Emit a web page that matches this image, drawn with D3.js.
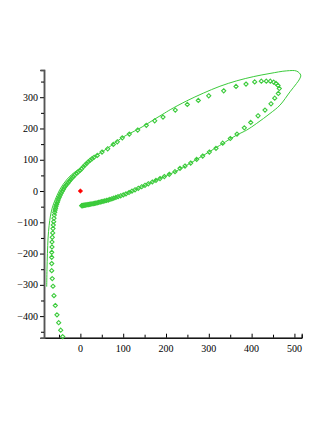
<!DOCTYPE html>
<html>
<head>
<meta charset="utf-8">
<script src="https://cdn.jsdelivr.net/npm/d3@7"></script>
<style>
	body { margin: 0; background: #fff; }
	svg { display: block; }
	.tick-label { font-family: 'Liberation Serif', 'Times New Roman', serif; font-size: 10px; fill: #000; }
</style>
</head>
<body>
<svg id="chart"></svg>
<script>
// Data

// numeric solution, drawn as hollow diamonds
let pointsX = [-41.4, -46, -50.7, -54.7, -58.6, -61.7, -64, -65.7, -67, -67, -67, -67, -66.4, -66.4, -65.7, -64.7, -64, -63.3, -62.4, -61.7, -61, -60,
	-59, -58, -57, -55.5, -54, -52.5, -51, -49, -47, -45, -42.5, -40, -37.5, -35, -32, -29, -26, -23, -20, -16.5, -13, -9, -5, -1, 3, 6.8,
	10.5, 14.5, 18.5, 23, 27.5, 32, 39.5, 50.5, 63.8, 76.9, 86.2, 97.9, 114.3, 133.9, 154, 173.6, 193, 221.7, 249.8, 275.5, 299.8, 334.8, 363.6, 386.9, 407.2, 422.7, 434.3, 443.7, 451.6, 457, 461.7, 464.7,
	462.4, 454, 445.3, 431.3, 415, 397.9, 383, 365.9, 350.2, 332.5, 316.8, 301.2, 285.7, 271.7, 257.7, 244.4, 232.7, 221,
	207.7, 196.1, 186, 176.6, 168, 158.6, 150.9, 143.2, 135.3, 127.6, 120.6, 113.6, 106.5, 100.2, 94.2,
	88, 83, 78, 73.5, 69, 65, 61, 57, 53, 49.5, 46, 42.5, 39, 36, 33, 30, 27, 24, 21, 18.5, 16, 13.5, 11.5, 9.5, 8, 6.5, 5.2, 4, 3];
let pointsY = [-465.5, -445, -421, -396, -366, -334.5, -304.5, -280, -254.6, -232, -212, -196, -179, -163, -148, -134, -120, -108.6, -98, -87, -76.7, -68,
	-61, -55, -49, -43, -37, -31, -25, -19, -13, -7, -1, 5, 11, 16, 21, 26, 31, 36, 41, 46, 51, 56, 61, 66, 71, 77.6,
	82.5, 88, 93.6, 98.5, 103.5, 108, 114, 124.6, 135, 149, 157.5, 170, 182, 195, 210, 224.6, 236.4, 258.8, 277, 289.8, 304.5, 320.4, 334.5, 342, 349, 351.4, 351.4, 351.4, 348, 344, 337.7, 328,
	312, 297, 279, 258.8, 240.6, 219.5, 202, 182, 168, 153, 136.4, 124.6, 111.8, 101.3, 89.5, 79.9, 72.5, 62,
	53.4, 46.2, 39.9, 34.1, 28.9, 23.1, 18.4, 13.7, 8.8, 4, -0.3, -4.7, -9.1, -12.4, -15.2,
	-18.1, -20.5, -22.8, -24.8, -27, -28.9, -30.2, -31.6, -32.9, -34.1, -35.3, -36.5, -37.6, -38.7, -39.6, -40.3, -41.1, -41.8, -42.5, -43.2, -43.8, -44.4, -44.9, -45.4, -45.8, -46.1, -46.5, -46.8, -47];

// reference solution, drawn as a solid curve
let curveX = [-78.7, -78, -77, -75.5, -73, -70, -66, -61, -55, -48, -40, -31, -21, -10, 0, 6.8,
	30, 63.8, 97.9, 133.9, 154, 173.6, 193, 209.8, 248, 287.2, 326, 365.2, 405, 443, 482, 505.4, 514.7, 512, 505,
	489.7, 466.4, 443, 411.9, 388.6, 365.2, 310.5, 256, 221, 182, 143.2, 104.2, 65.2, 34.1, 3];
let curveY = [-306, -250, -200, -150, -110, -80, -55, -35, -15, 5, 22, 38, 52, 64, 73, 78,
	107, 137, 171, 197, 213, 230, 246, 260, 288, 313, 335, 352.4, 366, 376, 384.3, 383.4, 370.6, 358, 344,
	317.3, 274.8, 248, 216.3, 194.9, 178.9, 133.2, 88.5, 61.7, 37.4, 13.7, -10.5, -28.8, -39.3, -47];

// fixed point
let fixedX = [0];
let fixedY = [0];

let xTicks = [0, 100, 200, 300, 400, 500];
let yTicks = [-400, -300, -200, -100, 0, 100, 200, 300];

let width = 327;
let height = 423;
let green = '#3ccb3c';

let svg = d3.select('svg#chart')
	.attr('width', width)
	.attr('height', height);

let x = d3.scaleLinear()
	.domain([-85, 517])
	.range([44, 301.7]);

let y = d3.scaleLinear()
	.domain([-469, 387])
	.range([337.7, 70]);

let fmt = function(d) { return d < 0 ? '\u2212' + Math.abs(d) : '' + d; };

// axes, maple style: major ticks every 100, minor ticks at the halves
let xAxis = d3.axisTop(x)
	.tickValues(xTicks)
	.tickSize(4)
	.tickFormat('');
let xMinor = d3.axisTop(x)
	.tickValues(d3.range(-50, 517, 50).filter(function(d) { return d % 100 != 0; }))
	.tickSize(3)
	.tickFormat('');
let yAxis = d3.axisLeft(y)
	.tickValues(yTicks)
	.tickSize(4)
	.tickFormat('');
let yMinor = d3.axisLeft(y)
	.tickValues(d3.range(-450, 387, 50).filter(function(d) { return d % 100 != 0; }))
	.tickSize(3)
	.tickFormat('');

let gx = svg.append('g')
	.attr('class', 'x-axis')
	.attr('transform', 'translate(0,' + y(-469) + ')');
gx.call(xAxis);
gx.append('g').call(xMinor);
gx.selectAll('.domain').attr('stroke', '#000');
gx.select('g').select('.domain').remove();

let gy = svg.append('g')
	.attr('class', 'y-axis')
	.attr('transform', 'translate(' + x(-85) + ',0)');
gy.call(yAxis);
gy.append('g').call(yMinor);
gy.selectAll('.domain').attr('stroke', '#555').attr('stroke-width', 1.5);
gy.select('g').select('.domain').remove();

svg.selectAll('.tick line').attr('stroke', '#000');

// tick labels
svg.selectAll('.x-label')
	.data(xTicks)
	.enter()
	.append('text')
	.attr('class', 'tick-label x-label')
	.attr('x', function(d) { return x(d); })
	.attr('y', y(-469) + 14)
	.attr('text-anchor', 'middle')
	.text(fmt);

svg.selectAll('.y-label')
	.data(yTicks)
	.enter()
	.append('text')
	.attr('class', 'tick-label y-label')
	.attr('x', x(-85) - 6)
	.attr('y', function(d) { return y(d); })
	.attr('dy', '0.35em')
	.attr('text-anchor', 'end')
	.text(fmt);

// solid curve
let line = d3.line()
	.x(function(d) { return x(curveX[d]); })
	.y(function(d) { return y(curveY[d]); })
	.curve(d3.curveCatmullRom);

svg.append('path')
	.attr('d', line(d3.range(curveX.length)))
	.attr('fill', 'none')
	.attr('stroke', green)
	.attr('stroke-width', 1);

// diamonds
let diamond = d3.symbol().type(d3.symbolDiamond2).size(11);

svg.selectAll('.point')
	.data(d3.range(pointsX.length))
	.enter()
	.append('path')
	.attr('class', 'point')
	.attr('d', diamond)
	.attr('transform', function(d) { return 'translate(' + x(pointsX[d]) + ',' + y(pointsY[d]) + ')'; })
	.attr('fill', 'none')
	.attr('stroke', green)
	.attr('stroke-width', 1.1);

svg.selectAll('.fixed')
	.data(d3.range(fixedX.length))
	.enter()
	.append('path')
	.attr('class', 'fixed')
	.attr('d', d3.symbol().type(d3.symbolDiamond2).size(14))
	.attr('transform', function(d) { return 'translate(' + x(fixedX[d]) + ',' + y(fixedY[d]) + ')'; })
	.attr('fill', '#f00')
	.attr('stroke', '#f00')
	.attr('stroke-width', 0.5);
</script>
</body>
</html>
